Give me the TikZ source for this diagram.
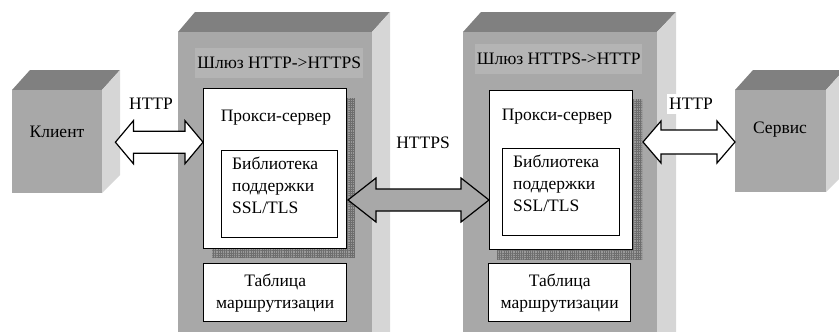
\documentclass[tikz,border=0pt]{standalone}
\usepackage{fontspec}
\setmainfont{Liberation Serif}
\newfontfamily\timesf{Liberation Serif}
\usetikzlibrary{calc,patterns.meta}
\definecolor{frontc}{HTML}{A8A8A8}
\definecolor{topc}{HTML}{808080}
\definecolor{sidec}{HTML}{D6D6D6}
\definecolor{bandc}{HTML}{B4B4B4}
\definecolor{shadc}{HTML}{9A9A9A}
\definecolor{gridc}{HTML}{6E6E6E}
\newcommand\dblarrow[6]{%
  \draw[#1] (#2) -- ($(#2)+(#6,-#5)$) -- ($(#2)+(#6,-#4)$) -- ($(#3)+(-#6,-#4)$)
    -- ($(#3)+(-#6,-#5)$) -- (#3) -- ($(#3)+(-#6,#5)$) -- ($(#3)+(-#6,#4)$)
    -- ($(#2)+(#6,#4)$) -- ($(#2)+(#6,#5)$) -- cycle;}
\begin{document}
\begin{tikzpicture}[x=1pt,y=-1pt,font=\timesf\fontsize{17.5}{22}\selectfont,
  frontface/.style={fill=frontc,draw=none,inner sep=0,anchor=north west},
  topface/.style={fill=topc},
  sideface/.style={fill=sidec},
  whitebox/.style={fill=white,draw=black,line width=1.3pt,inner sep=0,anchor=north west},
  shadowbox/.style={fill=shadc},
  gridlines/.style={pattern={Lines[angle=0,distance=2.2pt,line width=0.35pt]},pattern color=gridc},
  gridlinesv/.style={pattern={Lines[angle=90,distance=2.2pt,line width=0.35pt]},pattern color=gridc},
  arroww/.style={draw=black,line width=1.2pt,fill=white,line join=miter},
  arrowg/.style={draw=black,line width=1.2pt,fill=frontc,line join=miter},
  lbl/.style={inner sep=0},
  libtext/.style={align=left,inner sep=0,anchor=north west}]
\useasboundingbox (0,0) rectangle (839,332);

% ---------- Client cube ----------
\fill[topface] (12,90) -- (30,70) -- (120,70) -- (102,90) -- cycle;
\fill[sideface] (102,90) -- (120,70) -- (120,175) -- (102,193) -- cycle;
\node[frontface,minimum width=90,minimum height=103] (client) at (12,90) {};
\node[lbl] (clientt) at (57,132) {Клиент};

% ---------- Gateway 1 ----------
\fill[topface] (178,32) -- (195,12) -- (390,12) -- (372,32) -- cycle;
\fill[sideface] (372,32) -- (390,12) -- (390,332) -- (372,332) -- cycle;
\node[frontface,minimum width=194,minimum height=300] (gw1) at (178,32) {};
\node[fill=bandc,inner sep=0,anchor=north west,minimum width=168,minimum height=30] (band1) at (195,48) {};
\node[lbl] (gw1t) at (band1.center) {Шлюз HTTP->HTTPS};
\fill[shadowbox] (212,98) rectangle (355,258);
\fill[gridlines] (212,98) rectangle (355,258);
\fill[gridlinesv] (212,98) rectangle (355,258);
\node[whitebox,minimum width=143,minimum height=160] (proxy1) at (203,88) {};
\node[lbl] (proxy1t) at (276,118) {Прокси-сервер};
\node[whitebox,minimum width=116,minimum height=87] (lib1) at (221,150) {};
\node[libtext] (lib1t) at (232,157) {Библиотека\\поддержки\\SSL/TLS};
\node[whitebox,minimum width=143,minimum height=58] (tab1) at (203,263) {};
\node[lbl,align=center] (tab1t) at (tab1.center) {Таблица\\маршрутизации};

% ---------- Gateway 2 ----------
\fill[topface] (463,32) -- (481,12) -- (676,12) -- (657,32) -- cycle;
\fill[sideface] (657,32) -- (676,12) -- (676,332) -- (657,332) -- cycle;
\node[frontface,minimum width=194,minimum height=300] (gw2) at (463,32) {};
\node[fill=bandc,inner sep=0,anchor=north west,minimum width=167,minimum height=30] (band2) at (475,44) {};
\node[lbl] (gw2t) at (band2.center) {Шлюз HTTPS->HTTP};
\fill[shadowbox] (497,99) rectangle (642,259);
\fill[gridlines] (497,99) rectangle (642,259);
\fill[gridlinesv] (497,99) rectangle (642,259);
\node[whitebox,minimum width=143,minimum height=159] (proxy2) at (489,90) {};
\node[lbl] (proxy2t) at (557,117) {Прокси-сервер};
\node[whitebox,minimum width=117,minimum height=87] (lib2) at (502,148) {};
\node[libtext] (lib2t) at (513,155) {Библиотека\\поддержки\\SSL/TLS};
\node[whitebox,minimum width=142,minimum height=58] (tab2) at (488,263) {};
\node[lbl,align=center] (tab2t) at (tab2.center) {Таблица\\маршрутизации};

% ---------- Service cube ----------
\fill[topface] (735,90) -- (753,70) -- (844,70) -- (826,90) -- cycle;
\fill[sideface] (826,90) -- (844,70) -- (844,174) -- (826,192) -- cycle;
\node[frontface,minimum width=91,minimum height=102] (service) at (735,90) {};
\node[lbl] (servicet) at (780,130) {Сервис};

% ---------- Arrows ----------
\coordinate (a1l) at ($(client.east)+(13,0.5)$);
\coordinate (a1r) at (proxy1.west |- a1l);
\dblarrow{arroww}{a1l}{a1r}{11}{21.5}{18}
\coordinate (a2l) at (348,200);
\coordinate (a2r) at (proxy2.west |- a2l);
\dblarrow{arrowg}{a2l}{a2r}{11}{22}{28}
\coordinate (a3l) at (643,142);
\coordinate (a3r) at (service.west |- a3l);
\dblarrow{arroww}{a3l}{a3r}{12}{21}{18}

% ---------- Labels ----------
\node[fill=white,inner xsep=5,inner ysep=4] (http1) at (151,104) {HTTP};
\node[lbl] (https) at (423,143) {HTTPS};
\node[fill=white,inner xsep=2,inner ysep=4] (http2) at (691,104) {HTTP};
\end{tikzpicture}
\end{document}
